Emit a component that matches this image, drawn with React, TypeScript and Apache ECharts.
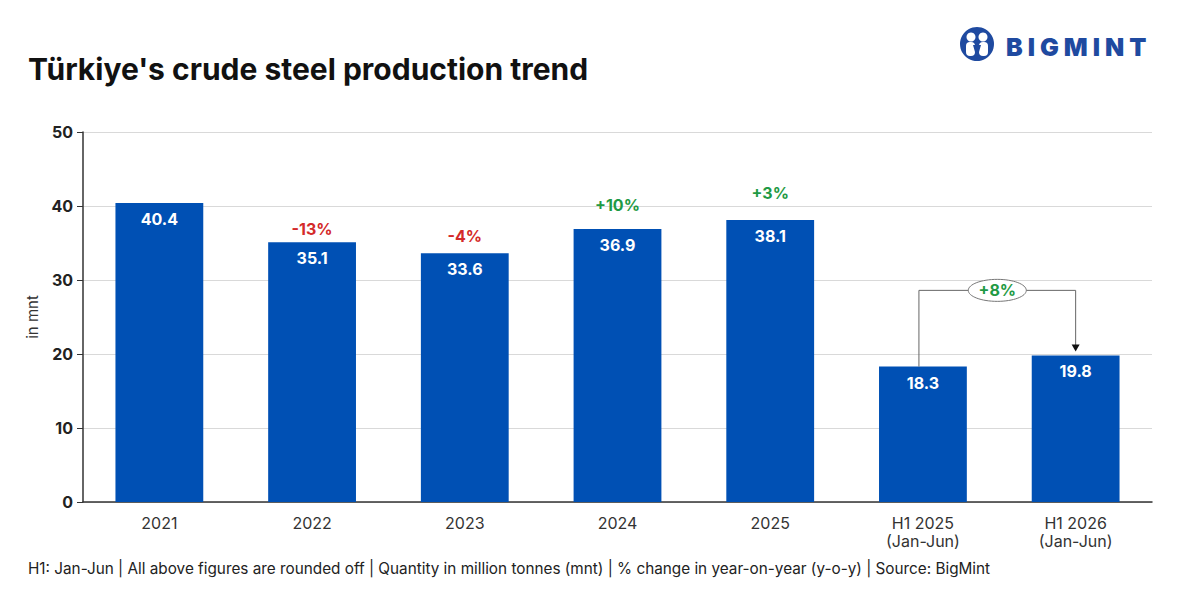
import React, { useEffect, useRef } from "react";
import * as echarts from "echarts";

const categories = ["2021", "2022", "2023", "2024", "2025", "H1 2025\n(Jan-Jun)", "H1 2026\n(Jan-Jun)"];
const production = [40.4, 35.1, 33.6, 36.9, 38.1, 18.3, 19.8];
const changeLabels = ["", "-13%", "-4%", "+10%", "+3%", "", ""];
const changeOffsets = [0, 0, 4, 11, 14, 0, 0];
const h1Change = "+8%";
const bracketLevel = 28.6;
const yTicks = { min: 0, max: 50, interval: 10 };

const BLUE = "#0050b4";
const RED = "#d42a2a";
const GREEN = "#1f9a45";
const FONT = "Inter, 'Liberation Sans', Arial, sans-serif";

export default function App() {
  const ref = useRef<HTMLDivElement>(null);
  useEffect(() => {
    document.body.style.margin = "0";
    const chart = echarts.init(ref.current!, null, { renderer: "svg" });
    const option: any = {
      animation: false,
      backgroundColor: "#ffffff",
      textStyle: { fontFamily: FONT },
      grid: { left: 83, right: 48, top: 132, bottom: 98 },
      xAxis: {
        type: "category",
        data: categories,
        axisLine: { lineStyle: { color: "#333", width: 1.5 } },
        axisTick: { show: false },
        axisLabel: { color: "#333", fontSize: 16, margin: 12, lineHeight: 18, fontFamily: FONT },
      },
      yAxis: {
        type: "value",
        min: yTicks.min,
        max: yTicks.max,
        interval: yTicks.interval,
        name: "in mnt",
        nameLocation: "middle",
        nameGap: 38,
        nameTextStyle: { color: "#333", fontSize: 15, fontFamily: FONT },
        axisLine: { show: true, lineStyle: { color: "#333", width: 1.5 } },
        axisTick: { show: true, length: 6, lineStyle: { color: "#333" } },
        axisLabel: { color: "#222", fontSize: 16, fontWeight: "bold", margin: 10, fontFamily: FONT },
        splitLine: { lineStyle: { color: "#d9d9d9" } },
      },
      series: [
        {
          type: "bar",
          data: production,
          barWidth: "57.5%",
          itemStyle: { color: BLUE },
          label: {
            show: true,
            position: "insideTop",
            distance: 8,
            color: "#fff",
            fontSize: 16,
            fontWeight: "bold",
            fontFamily: FONT,
            formatter: (p: any) => p.value.toFixed(1),
          },
        },
        {
          type: "bar",
          data: production.map((v, i) => ({
            value: v,
            label: {
              offset: [0, -changeOffsets[i]],
              color: changeLabels[i].startsWith("-") ? RED : GREEN,
            },
          })),
          barWidth: "57.5%",
          barGap: "-100%",
          itemStyle: { color: "transparent" },
          silent: true,
          label: {
            show: true,
            position: "top",
            distance: 5,
            fontSize: 16,
            fontWeight: "bold",
            fontFamily: FONT,
            formatter: (p: any) => changeLabels[p.dataIndex],
          },
        },
      ],
      graphic: [
        {
          type: "text",
          left: 28,
          top: 54,
          style: {
            text: "Türkiye's crude steel production trend",
            font: `bold 30px ${FONT}`,
            fill: "#111",
          },
        },
        {
          type: "text",
          left: 28,
          top: 561,
          style: {
            text: "H1: Jan-Jun | All above figures are rounded off | Quantity in million tonnes (mnt) | % change in year-on-year (y-o-y) | Source: BigMint",
            font: `15.3px ${FONT}`,
            fill: "#222",
          },
        },
        {
          type: "group",
          left: 960,
          top: 27,
          children: [
            { type: "circle", shape: { cx: 17, cy: 17, r: 17 }, style: { fill: "#1f4aa0" } },
            { type: "circle", shape: { cx: 11, cy: 10, r: 4.5 }, style: { fill: "#fff" } },
            { type: "circle", shape: { cx: 23, cy: 10, r: 4.5 }, style: { fill: "#fff" } },
            { type: "rect", shape: { x: 6, y: 15, width: 9, height: 14, r: 4 }, style: { fill: "#fff" } },
            { type: "rect", shape: { x: 19, y: 15, width: 9, height: 14, r: 4 }, style: { fill: "#fff" } },
            { type: "polygon", shape: { points: [[13, 18], [17, 32], [21, 18]] }, style: { fill: "#1f4aa0" } },
          ],
        },
        {
          type: "text",
          left: 1006,
          top: 34,
          style: {
            text: "B I G M I N T",
            font: `900 25px ${FONT}`,
            fill: "#1f4aa0",
          },
        },
      ],
    };
    chart.setOption(option);

    const a = chart.convertToPixel({ seriesIndex: 0 }, [5, production[5]]) as number[];
    const b = chart.convertToPixel({ seriesIndex: 0 }, [6, production[6]]) as number[];
    const top = chart.convertToPixel({ seriesIndex: 0 }, [5, bracketLevel]) as number[];
    const xL = a[0] - 4;
    const xR = b[0];
    const yT = top[1];
    const mid = (xL + xR) / 2;
    chart.setOption({
      graphic: [
        ...option.graphic,
        {
          type: "polyline",
          shape: { points: [[xL, a[1]], [xL, yT], [xR, yT], [xR, b[1] - 10]] },
          style: { stroke: "#666", lineWidth: 1, fill: "none" },
          z: 10,
        },
        {
          type: "polygon",
          shape: { points: [[xR - 4, b[1] - 11], [xR + 4, b[1] - 11], [xR, b[1] - 4]] },
          style: { fill: "#111" },
          z: 10,
        },
        {
          type: "ellipse",
          shape: { cx: mid, cy: yT, rx: 29, ry: 11 },
          style: { fill: "#fff", stroke: "#777", lineWidth: 1 },
          z: 11,
        },
        {
          type: "text",
          x: mid,
          y: yT,
          style: {
            text: h1Change,
            font: `bold 16px ${FONT}`,
            fill: GREEN,
            align: "center",
            verticalAlign: "middle",
          },
          z: 12,
        },
      ],
    });
    return () => chart.dispose();
  }, []);
  return <div ref={ref} style={{ position: "fixed", left: 0, top: 0, width: 1200, height: 600 }} />;
}
